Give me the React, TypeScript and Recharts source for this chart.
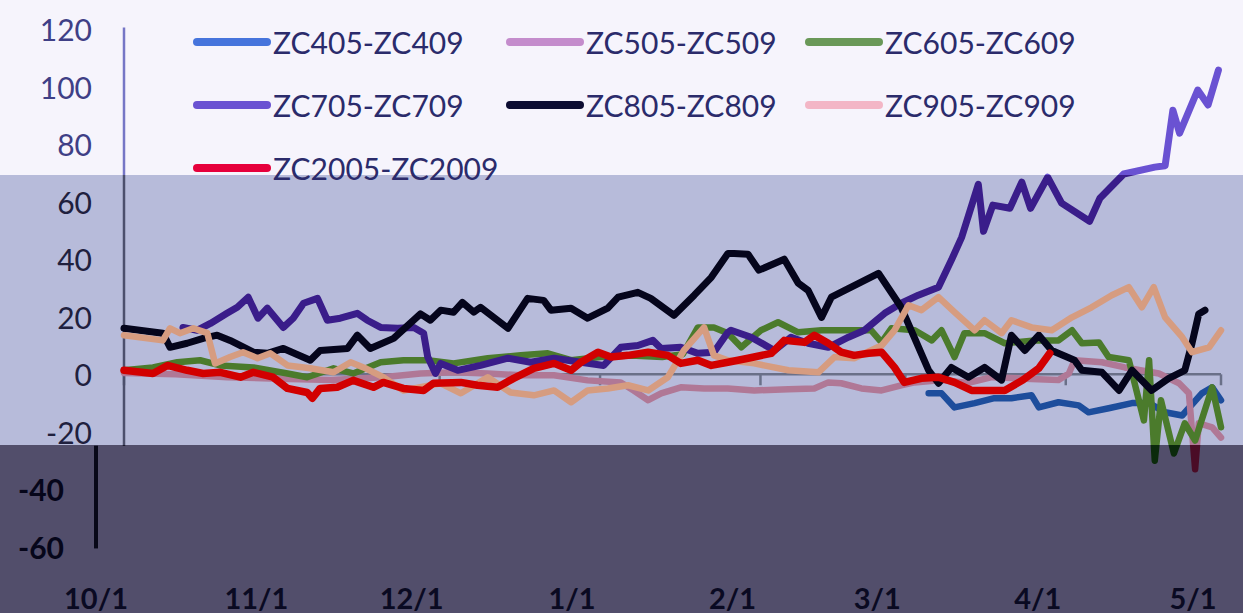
import React from "react";
import {
  LineChart,
  Line,
  XAxis,
  YAxis,
  Legend,
  ReferenceLine,
} from "recharts";

// x = days since 10/1, y = spread value
const MONTH_DAYS = [0, 31, 61, 92, 123, 151, 182, 212];
const MONTH_LABELS = ["10/1", "11/1", "12/1", "1/1", "2/1", "3/1", "4/1", "5/1"];
const Y_TICKS = [-60, -40, -20, 0, 20, 40, 60, 80, 100, 120];

const ZC405: [number, number][] = [
  [155.5, -6.6], [158, -6.6], [160.5, -11.5], [164.4, -10], [168.2, -8.3], [171.5, -8.3],
  [175.4, -7.3], [176.8, -11.5], [180.6, -9.7], [184.5, -10.8], [186.4, -13.2], [190.3, -11.8],
  [194.8, -10], [198.1, -10], [201.2, -13.2], [204.5, -14.3], [208.3, -6.6], [210.3, -4.5], [212, -9],
];

const ZC505: [number, number][] = [
  [0, 0.5], [10, 0], [20, -1], [30, -1.5], [40, -2], [50, -1], [57.3, 0.3], [63.7, 0.7],
  [70.3, 0.3], [76.7, -0.3], [83.1, -0.3], [89.6, -2.1], [96, -2.8], [98.5, -5.6], [101.3, -9],
  [103.8, -6.6], [107.6, -4.5], [112.1, -4.9], [116.7, -4.9], [121.8, -5.6], [128.4, -5.2],
  [133.4, -4.9], [136.1, -2.8], [138.6, -3.1], [142.5, -4.9], [146.4, -5.6], [150.2, -3.8],
  [152.8, -2.8], [158, -2], [163, -3], [167.7, -1], [174.1, -1.5], [180.6, -2], [182.6, 0.3],
  [183.7, 4.9], [189, 4.2], [193.4, 2.4], [200, 0.3], [203.9, -3.1], [205.8, -6.6], [207, -33],
  [207.7, -17], [210.3, -18.4], [212, -22],
];

const ZC605: [number, number][] = [
  [0, 1.4], [5.6, 2.4], [10.3, 4.2], [14.7, 4.9], [18.6, 3.1], [25, 2.4], [31.6, 0.3],
  [35.4, -1], [40.5, 2.1], [44.3, 0.3], [49.6, 4.2], [54, 4.9], [58.7, 4.9], [63.7, 3.8],
  [70.3, 5.6], [76.7, 6.6], [81.9, 7.3], [86.4, 4.9], [92, 6], [98, 6.5], [104, 6], [108, 7],
  [110.9, 16.3], [114, 16.3], [116.7, 14.3], [119.3, 9.4], [123.1, 15.3], [126.4, 18.1],
  [130.3, 14.6], [134.8, 15.3], [138.6, 15.3], [144.4, 15.3], [146.4, 11.1], [148.3, 16],
  [152.8, 15.3], [156.1, 11.8], [158, 15.3], [160.5, 6], [162.4, 14.3], [166.3, 14.3],
  [170.2, 10.8], [176, 11.8], [180.6, 11.8], [183.2, 15.3], [185.1, 10.8], [188.4, 11.1],
  [190.3, 6], [194.2, 4.9], [197.1, -16], [198.1, 4.9], [199.2, -30], [200.4, -9],
  [202.9, -27.5], [205, -17], [207, -23], [210.3, -4.5], [212, -18.4],
];

const ZC705: [number, number][] = [
  [11.4, 16.3], [14.1, 15.3], [16.7, 17.7], [19.9, 21.2], [21.9, 23.3], [24, 26.8], [25.9, 19.5],
  [27.7, 23], [30.8, 16.3], [32.7, 19.5], [34.7, 24.7], [37.4, 26.4], [39.3, 18.8], [41.8, 19.5],
  [45.1, 21.2], [47, 18.8], [49.6, 16.3], [52.9, 16], [56, 16.3], [57.9, 14.3], [58.7, 6],
  [60.2, 0.3], [61.2, 3.8], [64.5, 1.4], [68.9, 3.1], [74.2, 5.6], [78.6, 4.2], [83.1, 5.6],
  [88.3, 4.2], [92.7, 3.1], [96, 9.4], [99.3, 10], [102.2, 11.8], [103.8, 9], [107.6, 9.4],
  [110.9, 7.3], [114, 7.7], [116.7, 14.6], [117.3, 15.3], [121.2, 12.9], [125.7, 8.3],
  [128.9, 12.9], [132.2, 10.8], [136.1, 9.4], [140, 12.9], [143.1, 15.3], [147, 21.2],
  [150.2, 24.7], [153.5, 27.5], [157.4, 30.3], [159.9, 39.7], [161.9, 47.7], [165.1, 66],
  [166.1, 49.7], [167.9, 58.8], [171.2, 57.7], [173.5, 66.8], [175.2, 57.7], [178.5, 68.5],
  [181.2, 59.5], [186.6, 53.2], [188.6, 61.2], [193.2, 69.6], [199.2, 72], [201.2, 72.5],
  [202.7, 91.8], [204, 83.8], [207.5, 98.8], [209.5, 93.6], [211.5, 105.7],
];

const ZC805: [number, number][] = [
  [0, 16], [7.5, 14.3], [8.9, 9.4], [12.2, 10.8], [15.3, 12.5], [18, 13.6], [20.5, 11.8],
  [25, 7.7], [27.7, 7.3], [30.8, 9], [36, 4.9], [37.9, 8.3], [43.2, 9], [45.1, 13.6],
  [47.6, 9], [52.1, 12.5], [57.3, 21], [59.2, 18.8], [61.2, 22.3], [63.7, 21.6], [65.4, 25],
  [67.6, 21.6], [68.9, 23.3], [74.2, 16], [78, 26.4], [81.1, 25.7], [82.5, 22.3], [86.4, 23],
  [89.6, 19.5], [93.5, 23], [95.5, 26.8], [99.3, 28.5], [101.8, 26.4], [106.3, 20.5],
  [110.2, 27.5], [113.5, 33.7], [116.7, 42], [117.9, 42], [120.6, 41.7], [122.7, 36.2],
  [127.6, 40], [130.3, 31.7], [132.2, 29.2], [134.8, 19.8], [136.7, 26.8], [145.8, 35.1],
  [150.2, 23.3], [155.5, 1.4], [157.4, -3.1], [159.9, 2.4], [163.2, -1], [166.3, 2.4],
  [169.6, -2], [171.5, 13.6], [174.1, 8.3], [176.8, 13.6], [179.3, 8.3], [183.7, 4.9],
  [185.1, 1.4], [189, 0.7], [192.3, -5.6], [194.8, 1.4], [198.6, -5.6], [201.9, -1.4],
  [205, 1.4], [206.4, 10.8], [207.7, 21], [208.9, 22.3],
];

const ZC905: [number, number][] = [
  [0, 13.6], [7.5, 11.8], [8.9, 16], [10.8, 14.3], [13.4, 16], [16.1, 14.3], [17.6, 3.8],
  [20.5, 6], [23, 7.7], [25.8, 5.6], [28.3, 7.3], [31.6, 3.1], [36, 2.1], [40.5, 0.7],
  [43.8, 4.2], [46.3, 2.4], [50.1, -1], [54, -5.6], [57.3, -4.5], [61.2, -3.1], [65.1, -6.6],
  [70.3, -1], [74.7, -6.3], [79.2, -7.3], [83.1, -5.6], [86.4, -9.7], [89.6, -5.6], [93.5, -4.9],
  [97.4, -3.8], [101.3, -5.6], [105.1, -1], [108.2, 8.3], [112.1, 16.3], [114, 6.6],
  [116.7, 4.9], [121.8, 3.8], [128.4, 1.4], [134.2, 0.7], [137.3, 6], [141.1, 5.6], [146.4, 10],
  [148.9, 15.3], [151.6, 24], [154.1, 22.3], [157.4, 26.8], [160.5, 21.6], [164.4, 15.3],
  [166.3, 18.8], [169.6, 14.3], [171.5, 18.8], [175.4, 16.3], [179.3, 15.3], [183.2, 19.8],
  [187, 23.3], [190.9, 27.5], [194.2, 30.3], [196.7, 23.3], [199, 30.3], [201.2, 19.8],
  [204.5, 12.9], [206.4, 7.7], [209.7, 9.4], [212, 15.3],
];

const ZC2005: [number, number][] = [
  [0, 1.4], [5.6, 0.3], [8.4, 3.1], [12.2, 1.4], [15.3, 0.3], [18.6, 0.7], [22.5, -1],
  [25, 0.7], [28.8, -1], [31.6, -4.9], [35.4, -6.3], [36.4, -8.3], [37.9, -4.9], [41.2, -4.5],
  [44.3, -2.1], [48.2, -4.5], [50.1, -2.8], [54, -4.9], [57.9, -5.6], [59.8, -3.1],
  [65.1, -2.8], [68.3, -3.8], [72.2, -4.5], [75.3, -1.4], [79.2, 2.1], [83.1, 3.8], [86.4, 1.4],
  [88.3, 4.2], [91.6, 7.7], [94.1, 6], [97.4, 6.6], [101.3, 7.7], [105.1, 6.6], [107.6, 3.8],
  [110.9, 4.9], [113.5, 3.1], [116.7, 4.2], [120.6, 5.6], [125.1, 7.3], [127.6, 11.8],
  [131.5, 11.1], [133.4, 13.6], [136.1, 10.8], [138.6, 7.7], [141.1, 6.6], [143.9, 7.3],
  [146.4, 7.7], [148.9, 2.4], [150.8, -2.8], [154.1, -1.4], [157.4, -1], [160.5, -2.8],
  [163.8, -5.6], [167.1, -5.6], [170.2, -5.6], [173.7, -2], [176.8, 2.1], [178.9, 7.3],
];

// colours per screen band: top (washed), middle, bottom (dark)
const SERIES = [
  { name: "ZC405-ZC409", pts: ZC405, top: "#4674dc", mid: "#1d4d9c", bot: "#0a1a40", w: 6.5 },
  { name: "ZC505-ZC509", pts: ZC505, top: "#c48ccc", mid: "#b07896", bot: "#4a0c26", w: 6.5 },
  { name: "ZC605-ZC609", pts: ZC605, top: "#6a9858", mid: "#4b7b2c", bot: "#0b2a0c", w: 6.5 },
  { name: "ZC705-ZC709", pts: ZC705, top: "#6a52d2", mid: "#3a1d8a", bot: "#1a0c40", w: 7 },
  { name: "ZC805-ZC809", pts: ZC805, top: "#0c0c32", mid: "#05051c", bot: "#020208", w: 7 },
  { name: "ZC905-ZC909", pts: ZC905, top: "#f3b6c6", mid: "#d69c80", bot: "#4a3030", w: 6.5 },
  { name: "ZC2005-ZC2009", pts: ZC2005, top: "#e6003c", mid: "#d20000", bot: "#400010", w: 7.5 },
];

const W = 1243;
const H = 613;
const TOP_BAND = 175;
const BOT_BAND = 445;
const LABEL_SHIFT = 28; // bottom strip of the screenshot is offset left
const FONT = "Lato, 'Open Sans', sans-serif";

const toPoints = (pairs: [number, number][]) =>
  pairs.map(([day, value]) => ({ day, value }));

const bandStops = (top: string, mid: string, bot: string) => {
  const a = TOP_BAND / H;
  const b = BOT_BAND / H;
  return [
    <stop key="0" offset={0} stopColor={top} />,
    <stop key="1" offset={a} stopColor={top} />,
    <stop key="2" offset={a} stopColor={mid} />,
    <stop key="3" offset={b} stopColor={mid} />,
    <stop key="4" offset={b} stopColor={bot} />,
    <stop key="5" offset={1} stopColor={bot} />,
  ];
};

const YTick = (props: any) => {
  const { x, y, payload } = props;
  const v = payload.value;
  let fill = "#20203e";
  let weight = 400;
  let dx = 0;
  if (v >= 80) fill = "#3f3f86";
  if (v < -20) {
    fill = "#06061a";
    weight = 700;
    dx = -LABEL_SHIFT;
  }
  return (
    <text x={x + dx} y={y} textAnchor="end" dominantBaseline="central"
      fontFamily={FONT} fontSize={30} fontWeight={weight} fill={fill}>
      {v}
    </text>
  );
};

const XTick = (props: any) => {
  const { x, y, payload } = props;
  const i = MONTH_DAYS.indexOf(payload.value);
  return (
    <text x={x - LABEL_SHIFT} y={y + 50} textAnchor="middle" dominantBaseline="central"
      fontFamily={FONT} fontSize={29} fontWeight={700} fill="#0a0a22">
      {MONTH_LABELS[i]}
    </text>
  );
};

const LEGEND_COLS = [0, 313, 612];

const renderLegend = () => (
  <div style={{ position: "relative", width: 940, height: 190, fontFamily: FONT, fontSize: 30, color: "#2b2b6b" }}>
    {SERIES.map((s, i) => (
      <div key={s.name} style={{
        position: "absolute", left: LEGEND_COLS[i % 3], top: Math.floor(i / 3) * 63,
        height: 36, display: "flex", alignItems: "center", whiteSpace: "nowrap",
      }}>
        <svg width={80} height={12} style={{ display: "block" }}>
          <line x1={4} y1={6} x2={74} y2={6} stroke={s.top} strokeWidth={8} strokeLinecap="round" />
        </svg>
        <span style={{ lineHeight: "36px" }}>{s.name}</span>
      </div>
    ))}
  </div>
);

export default function App() {
  return (
    <div style={{
      position: "absolute", left: 0, top: 0, width: W, height: H,
      background: `linear-gradient(to bottom, #f6f4fc 0px, #f6f4fc ${TOP_BAND}px, #b7bbda ${TOP_BAND}px, #b7bbda ${BOT_BAND}px, #524e6b ${BOT_BAND}px, #524e6b ${H}px)`,
    }}>
      <LineChart width={W} height={H} margin={{ top: 29, right: 22, bottom: 0, left: 0 }}>
        <defs>
          {SERIES.map((s, i) => (
            <linearGradient key={s.name} id={`band-${i}`} gradientUnits="userSpaceOnUse" x1={0} y1={0} x2={0} y2={H}>
              {bandStops(s.top, s.mid, s.bot)}
            </linearGradient>
          ))}
          <linearGradient id="axis-band" gradientUnits="userSpaceOnUse" x1={0} y1={0} x2={0} y2={H}>
            {bandStops("#7676c6", "#4c4f6c", "#080818")}
          </linearGradient>
        </defs>
        <XAxis
          type="number"
          dataKey="day"
          domain={[0, 212]}
          ticks={MONTH_DAYS}
          height={66}
          axisLine={false}
          tickLine={false}
          tickSize={0}
          tickMargin={0}
          tick={XTick}
          interval={0}
        />
        <YAxis
          type="number"
          domain={[-60, 120]}
          ticks={Y_TICKS}
          width={124}
          axisLine={false}
          tickLine={false}
          tickSize={0}
          tickMargin={32}
          tick={YTick}
          interval={0}
        />
        <Legend
          layout="horizontal"
          verticalAlign="middle"
          align="center"
          content={renderLegend}
          wrapperStyle={{ top: 24, left: 193, width: 940 }}
        />
        <ReferenceLine y={0} stroke="#6a7088" strokeWidth={2.5} />
        {MONTH_DAYS.map((d) => (
          <ReferenceLine key={d} segment={[{ x: d, y: 0 }, { x: d, y: -3.8 }]} stroke="#6a7088" strokeWidth={2.5} />
        ))}
        <ReferenceLine
          segment={[{ x: 0, y: 120.5 }, { x: 0, y: -24.8 }]}
          stroke="url(#axis-band)"
          strokeWidth={2.5}
          ifOverflow="visible"
        />
        <ReferenceLine
          segment={[{ x: -LABEL_SHIFT / 5.175, y: -24.8 }, { x: -LABEL_SHIFT / 5.175, y: -60.5 }]}
          stroke="#080818"
          strokeWidth={4}
          ifOverflow="visible"
        />
        {SERIES.map((s, i) => (
          <Line
            key={s.name}
            name={s.name}
            data={toPoints(s.pts)}
            dataKey="value"
            type="linear"
            stroke={`url(#band-${i})`}
            strokeWidth={s.w}
            strokeLinejoin="round"
            strokeLinecap="round"
            dot={false}
            activeDot={false}
            isAnimationActive={false}
          />
        ))}
      </LineChart>
    </div>
  );
}
